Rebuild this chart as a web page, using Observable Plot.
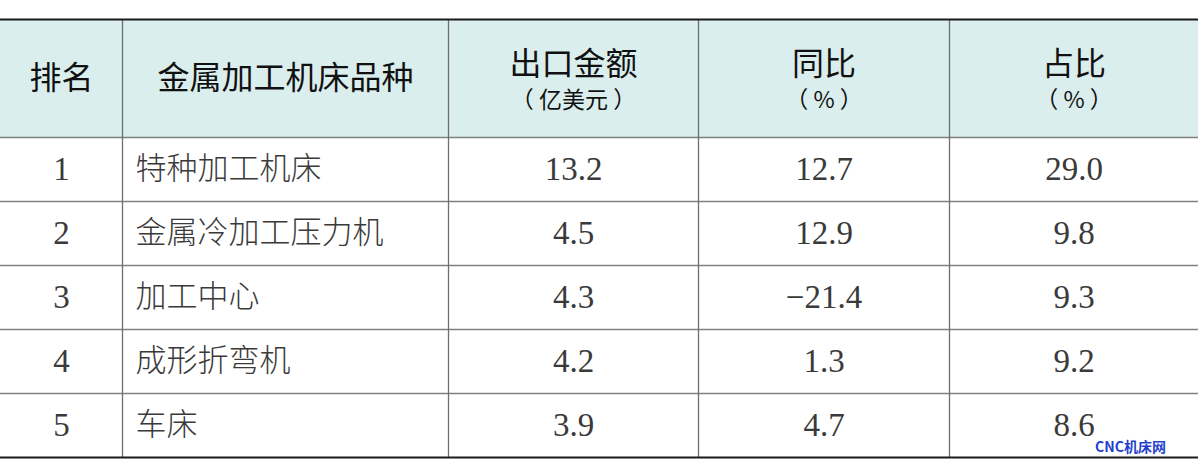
<!DOCTYPE html>
<html><head><meta charset="utf-8">
<script src="https://cdn.jsdelivr.net/npm/d3@7"></script>
<script src="https://cdn.jsdelivr.net/npm/@observablehq/plot@0.6"></script>
<style>html,body{margin:0;padding:0;background:#fff;}</style>
</head><body><div id="chart"></div>
<script>
// ---- data ----
const headers = ["排名", "金属加工机床品种", "出口金额", "同比", "占比"];
const headerUnits = ["", "", "（ 亿美元 ）", "（ % ）", "（ % ）"];
const ranks = ["1", "2", "3", "4", "5"];
const varieties = ["特种加工机床", "金属冷加工压力机", "加工中心", "成形折弯机", "车床"];
const exportValue = ["13.2", "4.5", "4.3", "4.2", "3.9"];
const yoy = ["12.7", "12.9", "−21.4", "1.3", "4.7"];
const share = ["29.0", "9.8", "9.3", "9.2", "8.6"];
const watermark = "CNC机床网";

// ---- layout ----
const W = 1200, H = 476;
const colEdges = [0, 122, 448, 698, 949, 1198];
const tableTop = 19, headerBottom = 137, rowH = 64;
const rowEdges = d3.range(6).map(i => headerBottom + i * rowH);
const colCenter = i => (colEdges[i] + colEdges[i + 1]) / 2;
const rowCenter = i => headerBottom + rowH * i + rowH / 2;
const tableBottom = rowEdges[5];

const cjkSans = "'Noto Sans CJK SC', 'Noto Sans', sans-serif";
const serif = "'Liberation Serif', 'DejaVu Serif', serif";

const headerCells = headers.map((h, i) => ({h, u: headerUnits[i], x: colCenter(i)}));
const rows = ranks.map((r, i) => ({rank: r, name: varieties[i], v: exportValue[i], y1: yoy[i], s: share[i], y: rowCenter(i)}));

const chart = Plot.plot({
  width: W, height: H,
  margin: 0,
  x: {domain: [0, W], range: [0, W], axis: null},
  y: {domain: [0, H], range: [0, H], axis: null},
  marks: [
    Plot.rect([{}], {x1: colEdges[0], x2: colEdges[5], y1: tableTop, y2: headerBottom, fill: "#dbeeee"}),
    Plot.ruleY(rowEdges.slice(0, 5), {x1: colEdges[0], x2: colEdges[5], stroke: "#808080", strokeWidth: 1.3}),
    Plot.ruleX(colEdges.slice(1, 5), {y1: tableTop, y2: tableBottom, stroke: "#6e6e6e", strokeWidth: 1.3}),
    Plot.ruleY([tableTop, tableBottom], {x1: colEdges[0], x2: colEdges[5], stroke: "#1a1a1a", strokeWidth: 2.2}),
    Plot.text(headerCells.filter(d => !d.u), {x: "x", y: 78, text: "h", fontSize: 32, fontFamily: cjkSans, fill: "#111", lineAnchor: "middle"}),
    Plot.text(headerCells.filter(d => d.u), {x: "x", y: 64, text: "h", fontSize: 32, fontFamily: cjkSans, fill: "#111", lineAnchor: "middle"}),
    Plot.text(headerCells.filter(d => d.u), {x: "x", y: 100, text: "u", fontSize: 23, fontFamily: cjkSans, fill: "#111", lineAnchor: "middle"}),
    Plot.text(rows, {x: colCenter(0), y: "y", text: "rank", fontSize: 33, fontFamily: serif, fill: "#3a3a3a", lineAnchor: "middle"}),
    Plot.text(rows, {x: 135, y: "y", text: "name", textAnchor: "start", fontSize: 31, fontFamily: cjkSans, fontWeight: 300, fill: "#3a3a3a", lineAnchor: "middle"}),
    Plot.text(rows, {x: colCenter(2), y: "y", text: "v", fontSize: 33, fontFamily: serif, fill: "#3a3a3a", lineAnchor: "middle"}),
    Plot.text(rows, {x: colCenter(3), y: "y", text: "y1", fontSize: 33, fontFamily: serif, fill: "#3a3a3a", lineAnchor: "middle"}),
    Plot.text(rows, {x: colCenter(4), y: "y", text: "s", fontSize: 33, fontFamily: serif, fill: "#3a3a3a", lineAnchor: "middle"}),
    Plot.text([watermark], {x: 1130, y: 447, text: d => d, fontSize: 14, fontWeight: "bold", fontFamily: cjkSans, fill: "#1f3fcf", lineAnchor: "middle"})
  ]
});
document.getElementById("chart").appendChild(chart);
</script>
</body></html>
